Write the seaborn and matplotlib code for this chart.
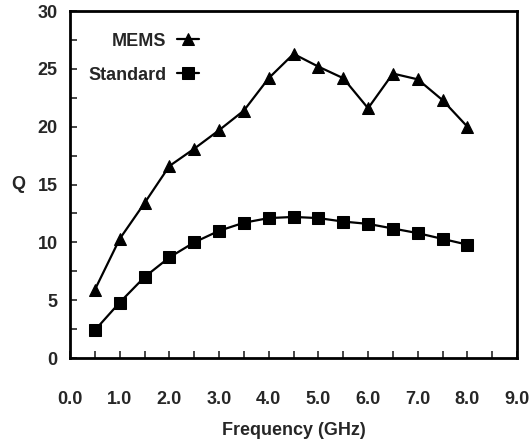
import numpy as np
import pandas as pd
import seaborn as sns
from matplotlib import pyplot as plt
from matplotlib.ticker import MultipleLocator, FormatStrFormatter

# frequency points (GHz)
freq = [0.5, 1.0, 1.5, 2.0, 2.5, 3.0, 3.5, 4.0, 4.5, 5.0, 5.5, 6.0, 6.5, 7.0, 7.5, 8.0]
# quality factor
q_mems = [5.9, 10.3, 13.4, 16.6, 18.1, 19.7, 21.4, 24.2, 26.3, 25.2, 24.2, 21.6, 24.6, 24.1, 22.3, 20.0]
q_standard = [2.4, 4.8, 7.0, 8.7, 10.0, 11.0, 11.7, 12.1, 12.2, 12.1, 11.8, 11.6, 11.2, 10.8, 10.3, 9.8]

df = pd.DataFrame({
    'Frequency': freq * 2,
    'Q': q_mems + q_standard,
    'Device': ['MEMS'] * len(freq) + ['Standard'] * len(freq),
})

sns.set_style('ticks')
plt.rcParams['font.family'] = ['Liberation Sans', 'DejaVu Sans']
plt.rcParams['font.weight'] = 'bold'

fig = plt.figure(figsize=(5.32, 4.45), dpi=100)
ax = fig.add_axes([0.1316, 0.1955, 0.8404, 0.7795])

sns.lineplot(data=df, x='Frequency', y='Q', hue='Device', style='Device',
             markers={'MEMS': '^', 'Standard': 's'}, dashes=False,
             palette={'MEMS': 'black', 'Standard': 'black'},
             linewidth=1.6, markersize=9, markeredgecolor='black', ax=ax)

ax.set_xlim(0, 9)
ax.set_ylim(0, 30)
ax.xaxis.set_major_locator(MultipleLocator(1.0))
ax.xaxis.set_minor_locator(MultipleLocator(0.5))
ax.xaxis.set_major_formatter(FormatStrFormatter('%.1f'))
ax.yaxis.set_major_locator(MultipleLocator(5))
ax.yaxis.set_minor_locator(MultipleLocator(2.5))

ax.tick_params(axis='x', which='both', direction='in', length=5, width=1.2,
               pad=24, labelsize=13)
ax.tick_params(axis='y', which='both', direction='in', length=5, width=1.2,
               pad=9, labelsize=13)
for lbl in ax.get_xticklabels() + ax.get_yticklabels():
    lbl.set_fontweight('bold')

for sp in ax.spines.values():
    sp.set_linewidth(2)
    sp.set_color('black')

ax.set_xlabel('Frequency (GHz)', fontsize=13, fontweight='bold', labelpad=10)
ax.set_ylabel('Q', fontsize=13, fontweight='bold', rotation=0, labelpad=14,
              va='center')

leg = ax.legend(loc='upper left', bbox_to_anchor=(0.004, 0.985), frameon=False,
                markerfirst=False, handlelength=1.2, handletextpad=0.6,
                labelspacing=0.95, prop={'weight': 'bold', 'size': 13})
for t in leg.get_texts():
    t.set_ha('right')

fig.savefig('out.png', dpi=100)
